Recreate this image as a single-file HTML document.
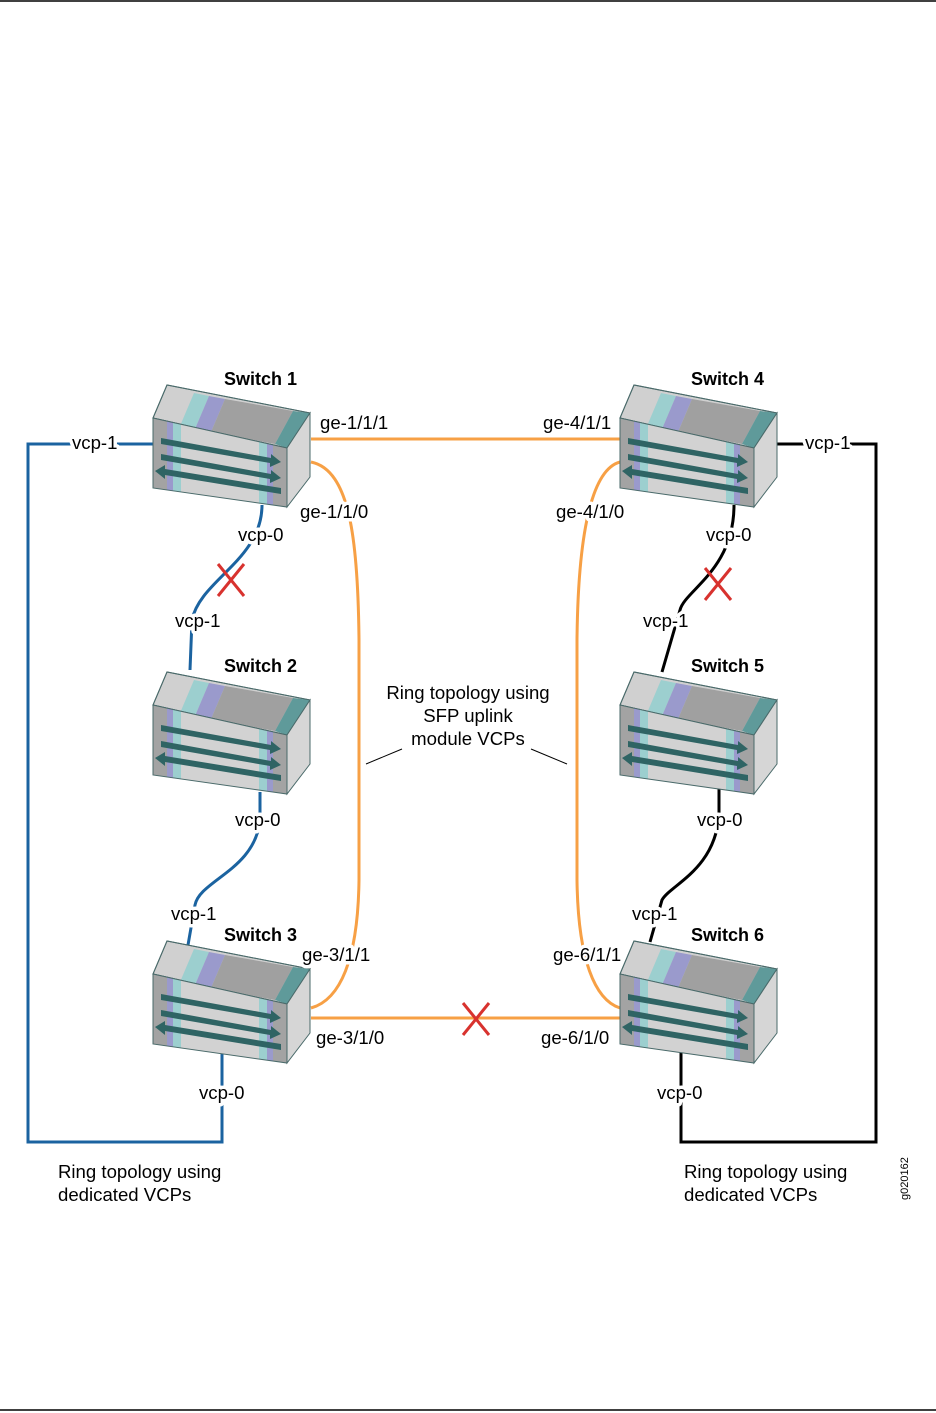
<!DOCTYPE html>
<html><head><meta charset="utf-8"><style>
body{margin:0;background:#fff;}
svg{display:block;font-family:"Liberation Sans",Arial,sans-serif;}
.h{paint-order:stroke;stroke:#fff;stroke-width:7px;stroke-linejoin:round;}
</style></head><body>
<svg width="936" height="1413" viewBox="0 0 936 1413" xmlns="http://www.w3.org/2000/svg">
<defs>
<g id="sw">
  <polygon points="0,0 14,-33 157,-5 134,30" fill="#d0d0d0" stroke="#4a6a6a" stroke-width="1"/>
  <polygon points="41,-25 56,-22 42,11 27,8" fill="#9ccfcf"/>
  <polygon points="56,-22 72,-19 58,14 42,11" fill="#9a9acc"/>
  <polygon points="72,-19 140,-7 122,26 58,14" fill="#a0a0a0"/>
  <polygon points="140,-7 157,-5 134,30 122,26" fill="#5f9a9a"/>
  <polygon points="0,0 14,-33 157,-5 134,30" fill="none" stroke="#4a6a6a" stroke-width="1"/>
  <polygon points="0,0 134,30 134,89 0,70" fill="#a3a3a3"/>
  <polygon points="14,3 134,30 134,89 14,72" fill="#d2d2d2"/>
  <polygon points="14,3 20,4 20,73 14,72" fill="#9a9acc"/>
  <polygon points="20,4 28,6 28,74 20,73" fill="#9ccfcf"/>
  <polygon points="106,24 114,26 114,86 106,85" fill="#9ccfcf"/>
  <polygon points="114,26 120,27 120,87 114,86" fill="#9a9acc"/>
  <polygon points="120,27 134,30 134,89 120,87" fill="#a3a3a3"/>
  <polygon points="0,0 134,30 134,89 0,70" fill="none" stroke="#4a6a6a" stroke-width="1"/>
  <polygon points="134,30 157,-5 157,59 134,89" fill="#d6d6d6" stroke="#4a6a6a" stroke-width="1"/>
  <g fill="#2f6464">
   <polygon points="8,20 118,40 118,36 128,44 117,49 117,45 8,26"/>
   <polygon points="8,36 118,56 118,52 128,60 117,65 117,61 8,42"/>
   <polygon points="2,53 12,47 12,51 128,70 128,76 12,57 12,61"/>
  </g>
</g>
</defs>
<line x1="0" y1="1" x2="936" y2="1" stroke="#000" stroke-width="1.5"/>
<line x1="0" y1="1410" x2="936" y2="1410" stroke="#000" stroke-width="1.5"/>

<g fill="none" stroke="#1b63a0" stroke-width="3">
 <polyline points="153,444 28,444 28,1142 222,1142 222,1050"/>
 <path d="M262,505 C262,560 200,580 192,620 L190,670"/>
 <path d="M260,792 L260,820 C255,870 200,880 195,905 L188,945"/>
</g>
<g fill="none" stroke="#000" stroke-width="3">
 <polyline points="776,444 876,444 876,1142 681,1142 681,1048"/>
 <path d="M734,505 C734,570 685,590 680,610 L662,672"/>
 <path d="M719,787 L719,815 C715,870 670,885 662,900 L650,942"/>
</g>
<g fill="none" stroke="#f7a045" stroke-width="3">
 <line x1="311" y1="439" x2="620" y2="439"/>
 <line x1="311" y1="1018" x2="620" y2="1018"/>
 <path d="M311,462 C350,470 358,540 359,640 L359,880 C358,960 340,1000 311,1008"/>
 <path d="M620,462 C590,470 578,540 577,640 L577,880 C578,960 595,1000 620,1008"/>
</g>
<g stroke="#d8322e" stroke-width="3">
 <line x1="218" y1="564" x2="244" y2="596"/><line x1="244" y1="564" x2="218" y2="596"/>
 <line x1="705" y1="568" x2="731" y2="600"/><line x1="731" y1="568" x2="705" y2="600"/>
 <line x1="463" y1="1003" x2="489" y2="1035"/><line x1="489" y1="1003" x2="463" y2="1035"/>
</g>
<g stroke="#000" stroke-width="1">
 <line x1="366" y1="764" x2="402" y2="749"/>
 <line x1="531" y1="749" x2="567" y2="764"/>
</g>

<use href="#sw" x="153" y="418"/>
<use href="#sw" x="153" y="705"/>
<use href="#sw" x="153" y="974"/>
<use href="#sw" x="620" y="418"/>
<use href="#sw" x="620" y="705"/>
<use href="#sw" x="620" y="974"/>

<g font-size="18.6" fill="#000">
 <g font-weight="bold" font-size="18">
  <text x="224" y="385">Switch 1</text>
  <text x="224" y="672">Switch 2</text>
  <text x="224" y="941">Switch 3</text>
  <text x="691" y="385">Switch 4</text>
  <text x="691" y="672">Switch 5</text>
  <text x="691" y="941">Switch 6</text>
 </g>
 <g class="h">
 <text x="320" y="429">ge-1/1/1</text>
 <text x="543" y="429">ge-4/1/1</text>
 <text x="300" y="518">ge-1/1/0</text>
 <text x="556" y="518">ge-4/1/0</text>
 <text x="302" y="961">ge-3/1/1</text>
 <text x="553" y="961">ge-6/1/1</text>
 <text x="316" y="1044">ge-3/1/0</text>
 <text x="541" y="1044">ge-6/1/0</text>
 <text x="72" y="449">vcp-1</text>
 <text x="805" y="449">vcp-1</text>
 <text x="238" y="541">vcp-0</text>
 <text x="706" y="541">vcp-0</text>
 <text x="175" y="627">vcp-1</text>
 <text x="643" y="627">vcp-1</text>
 <text x="235" y="826">vcp-0</text>
 <text x="697" y="826">vcp-0</text>
 <text x="171" y="920">vcp-1</text>
 <text x="632" y="920">vcp-1</text>
 <text x="199" y="1099">vcp-0</text>
 <text x="657" y="1099">vcp-0</text>
 </g>
 <text x="468" y="699" text-anchor="middle">Ring topology using</text>
 <text x="468" y="722" text-anchor="middle">SFP uplink</text>
 <text x="468" y="745" text-anchor="middle">module VCPs</text>
 <text x="58" y="1178">Ring topology using</text>
 <text x="58" y="1201">dedicated VCPs</text>
 <text x="684" y="1178">Ring topology using</text>
 <text x="684" y="1201">dedicated VCPs</text>
</g>
<text x="908" y="1200" font-size="11" transform="rotate(-90 908 1200)">g020162</text>
</svg>
</body></html>
